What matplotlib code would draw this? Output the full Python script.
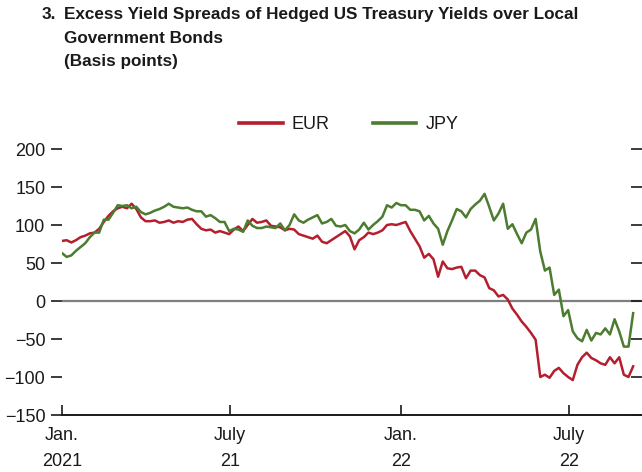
import matplotlib
matplotlib.use("Agg")
import matplotlib.pyplot as plt
import matplotlib.lines as mlines
import pandas as pd

# Observation dates: one reading every five days, Jan. 2021 to Sep. 2022
start_date = "2021-01-01"
n_obs = 124

eur = [79, 80, 77, 80, 84, 86, 89, 90, 95, 104,
       112, 118, 122, 124, 122, 128, 121, 110, 105, 105,
       106, 103, 104, 106, 103, 105, 104, 107, 108, 101,
       95, 93, 94, 90, 92, 90, 88, 94, 98, 92,
       100, 108, 103, 104, 106, 99, 98, 97, 93, 95,
       94, 88, 86, 84, 82, 86, 78, 76, 80, 84,
       88, 92, 85, 68, 80, 84, 90, 88, 90, 93,
       100, 101, 100, 102, 104, 92, 82, 72, 57, 62,
       55, 32, 52, 43, 42, 44, 45, 30, 40, 40,
       34, 31, 17, 14, 6, 8, 2, -10, -18, -27,
       -34, -42, -51, -100, -97, -101, -92, -88, -95, -100,
       -104, -84, -74, -68, -75, -78, -82, -84, -74, -82,
       -74, -97, -100, -86]

jpy = [63, 58, 60, 66, 71, 76, 84, 90, 90, 107,
       107, 116, 126, 125, 126, 122, 124, 117, 114, 116,
       119, 121, 124, 128, 124, 123, 122, 123, 120, 118,
       118, 111, 113, 109, 104, 104, 92, 95, 94, 91,
       106, 99, 96, 96, 98, 97, 96, 102, 93, 100,
       114, 106, 103, 107, 110, 113, 102, 104, 108, 99,
       98, 100, 92, 89, 94, 103, 94, 100, 105, 111,
       126, 123, 129, 126, 126, 120, 120, 118, 106, 112,
       102, 95, 74, 92, 106, 121, 118, 110, 121, 127,
       132, 141, 124, 106, 115, 128, 95, 101, 88, 76,
       90, 94, 108, 65, 40, 44, 8, 15, -20, -12,
       -40, -49, -53, -38, -52, -42, -44, -36, -44, -24,
       -40, -60, -60, -16]

series_names = ["EUR", "JPY"]
series_colors = ["#B41F2E", "#4B7C2F"]

tick_dates = ["2021-01-01", "2021-07-01", "2022-01-01", "2022-07-01"]
tick_labels = ["Jan.\n2021", "July\n21", "Jan.\n22", "July\n22"]
y_ticks = [-150, -100, -50, 0, 50, 100, 150, 200]

dates = pd.date_range(start_date, periods=n_obs, freq="5D")

plt.rcParams["font.family"] = ["Liberation Sans", "DejaVu Sans"]
ink = "#1a1a1a"
label_size = 13

fig = plt.figure(figsize=(6.42, 4.72), dpi=100)
ax = fig.add_axes([62 / 642, 57 / 472, 579.5 / 642, 266 / 472])

ax.axhline(0, color="#7f7f7f", lw=1.6, zorder=1)
for vals, name, col in zip([eur, jpy], series_names, series_colors):
    ax.plot(dates, vals, color=col, lw=1.8, label=name, zorder=3,
            solid_joinstyle="round")

ax.set_xlim(pd.Timestamp("2021-01-01"), pd.Timestamp("2022-09-17"))
ax.set_ylim(-150, 200)

for s in ["left", "right", "top"]:
    ax.spines[s].set_visible(False)
ax.spines["bottom"].set_linewidth(1.4)
ax.spines["bottom"].set_color(ink)

ax.set_xticks([pd.Timestamp(d) for d in tick_dates])
ax.set_xticklabels(tick_labels, fontsize=label_size, linespacing=1.68,
                   color=ink)
ax.tick_params(axis="x", direction="in", length=7, width=1.2, pad=9,
               color=ink)

ax.set_yticks(y_ticks)
ax.set_yticklabels([f"{v}".replace("-", "\u2212") for v in y_ticks],
                   fontsize=label_size, color=ink)
ax.tick_params(axis="y", direction="out", length=8, width=1.2,
               pad=4, color=ink, right=True, labelright=False)
for t in ax.yaxis.get_major_ticks():
    t.tick2line.set_marker(mlines.TICKLEFT)
    t.tick2line.set_markersize(8)

leg = ax.legend(loc="center", bbox_to_anchor=(0.495, 1 + 24 / 266), ncol=2,
                frameon=False, fontsize=label_size, handlelength=2.4,
                handletextpad=0.5, columnspacing=2.4)
for h in leg.get_lines():
    h.set_linewidth(2.6)
for t in leg.get_texts():
    t.set_color(ink)

title_top = 1 - 7 / 472
fig.text(42 / 642, title_top, "3.", fontsize=12.3, fontweight="bold",
         va="top", ha="left", color=ink)
fig.text(64 / 642, title_top,
         "Excess Yield Spreads of Hedged US Treasury Yields over Local\n"
         "Government Bonds\n(Basis points)",
         fontsize=12.3, fontweight="bold", va="top", ha="left",
         linespacing=1.72, color=ink)

fig.savefig("out.png", dpi=100)
